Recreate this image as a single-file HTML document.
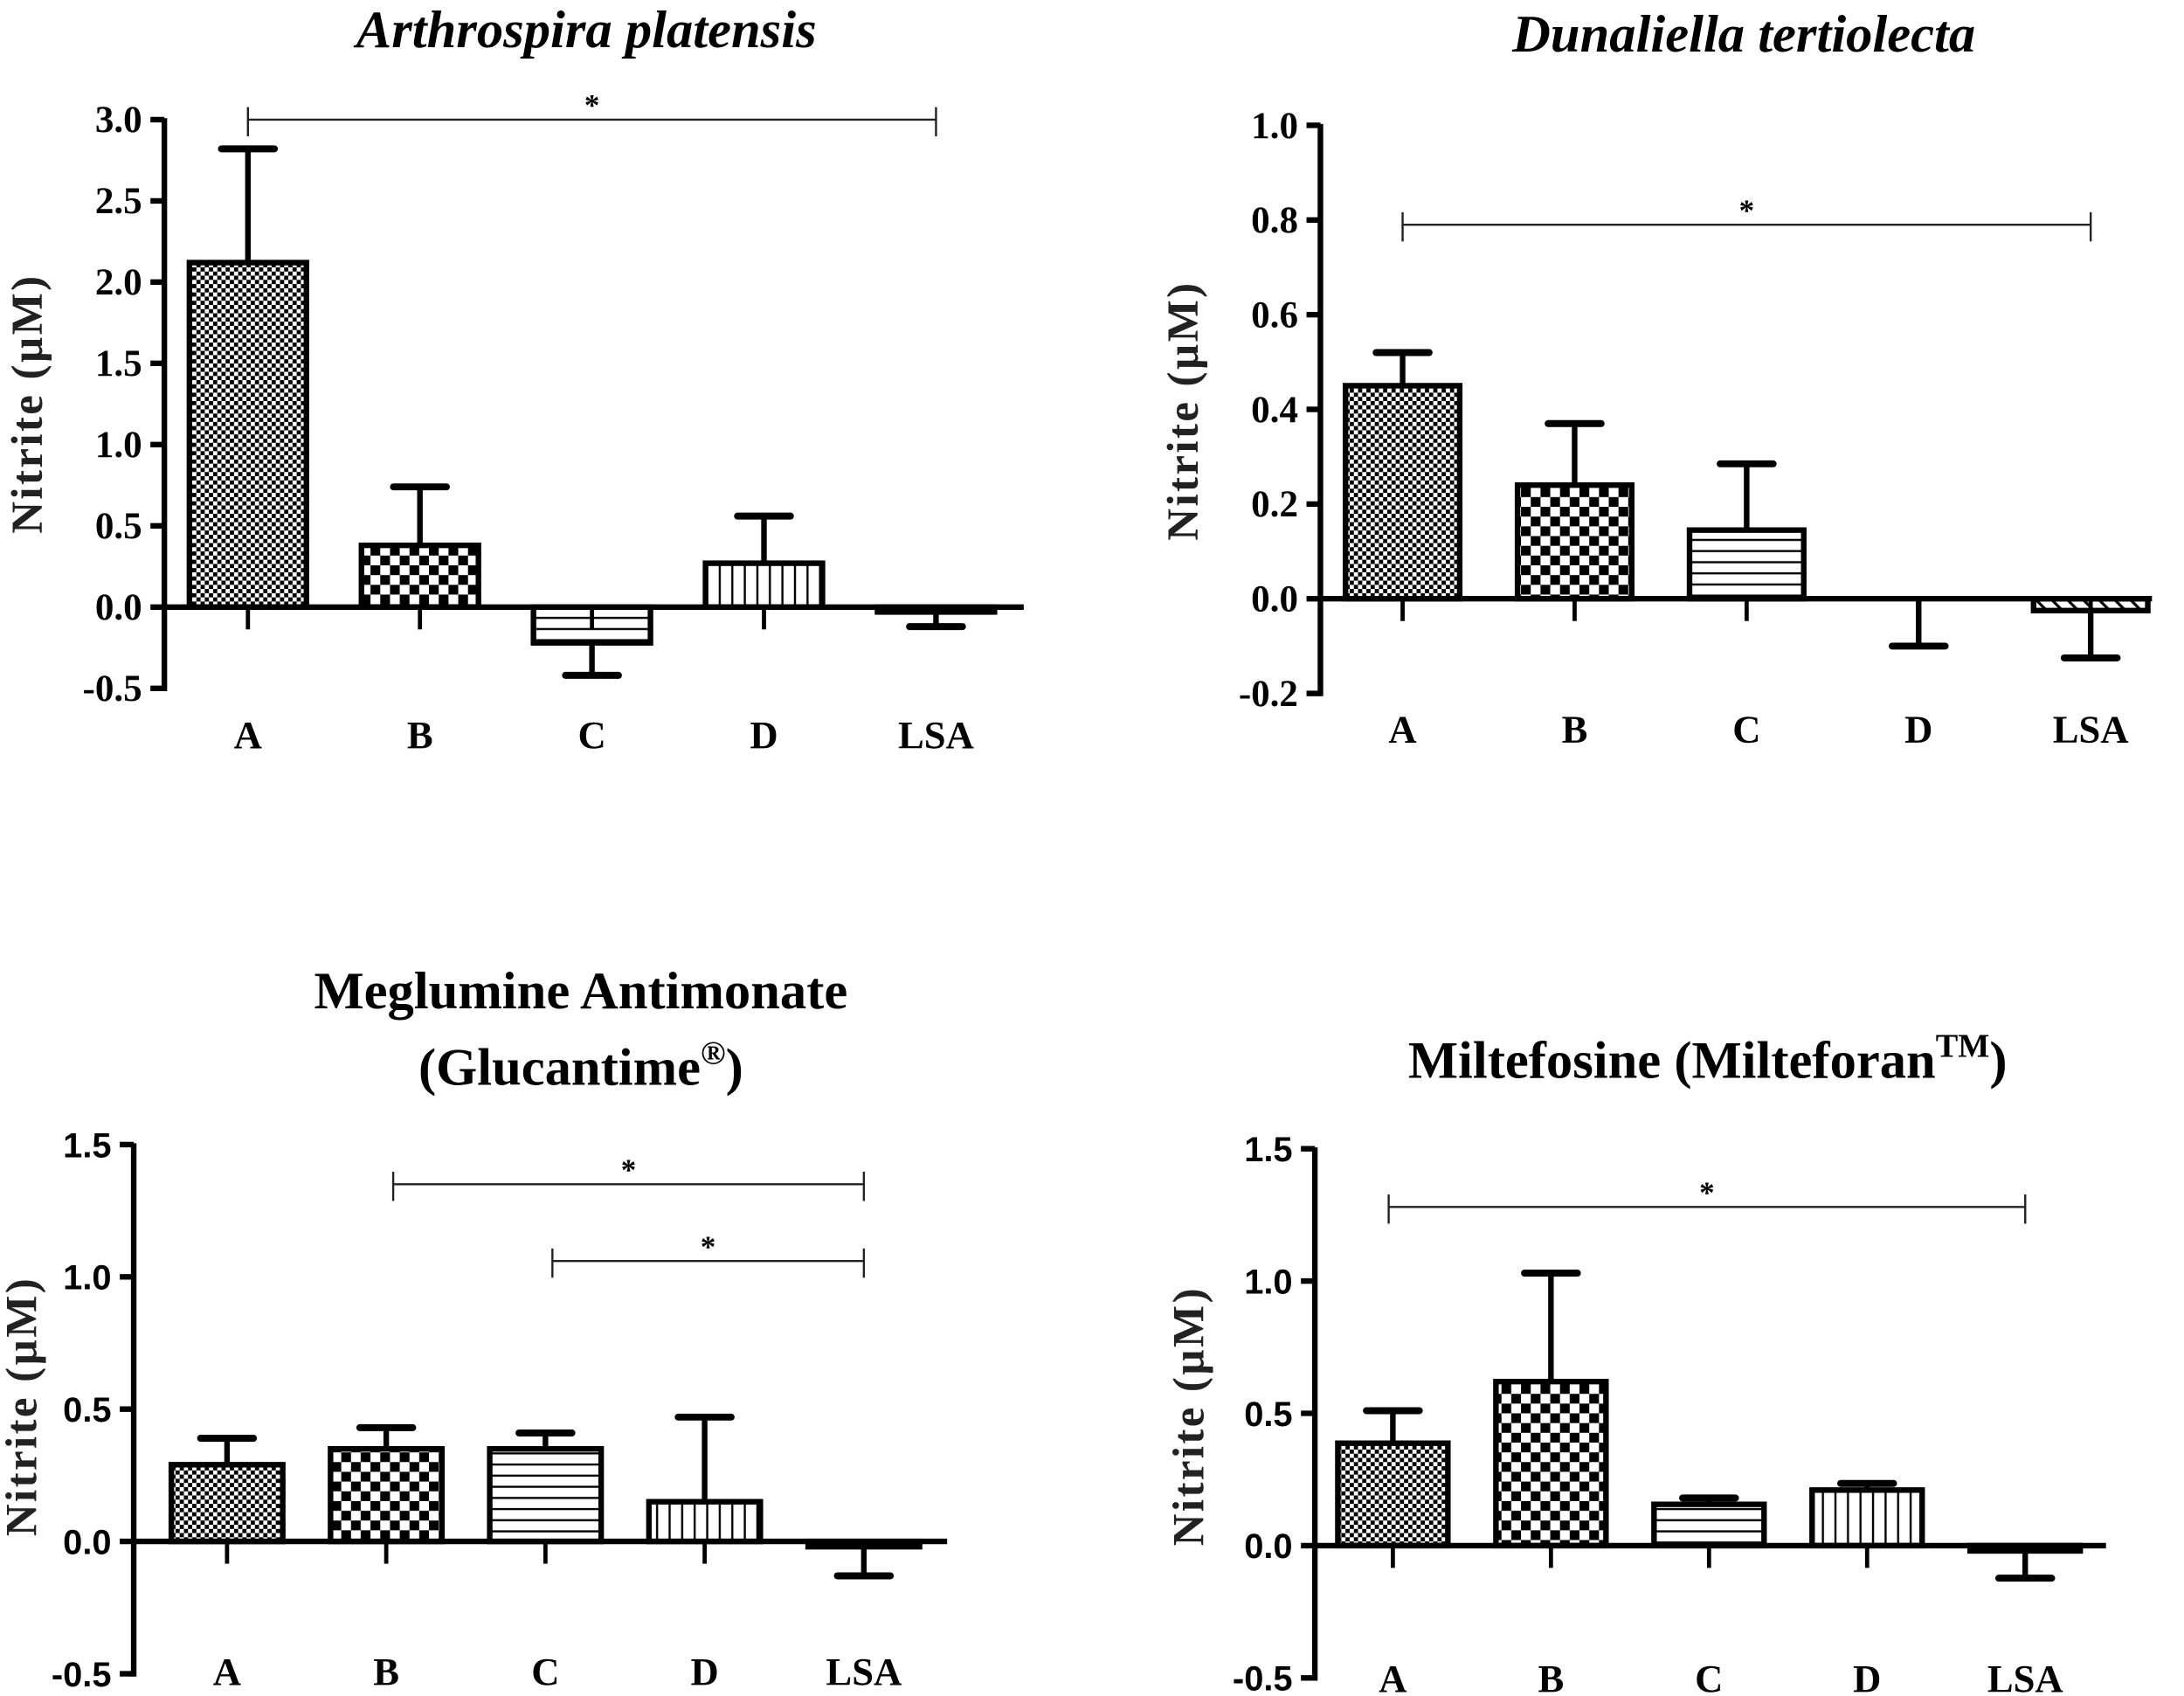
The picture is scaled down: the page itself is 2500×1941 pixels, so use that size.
<!DOCTYPE html>
<html><head><meta charset="utf-8"><style>
html,body{margin:0;padding:0;background:#fff;}
svg{display:block;}
.serif{font-family:"Liberation Serif",serif;font-weight:bold;}
.sans{font-family:"Liberation Sans",sans-serif;font-weight:bold;}
</style></head><body>
<svg id="fig" width="2500" height="1941" viewBox="0 0 1568 1218" preserveAspectRatio="none" xmlns="http://www.w3.org/2000/svg">
<defs>
<pattern id="pA" patternUnits="userSpaceOnUse" width="6" height="6"><rect width="6" height="6" fill="#fff"/><rect width="3" height="3" fill="#000"/><rect x="3" y="3" width="3" height="3" fill="#000"/></pattern>
<pattern id="pB" patternUnits="userSpaceOnUse" width="14" height="14"><rect width="14" height="14" fill="#fff"/><rect width="7" height="7" fill="#000"/><rect x="7" y="7" width="7" height="7" fill="#000"/></pattern>
<pattern id="pC" patternUnits="userSpaceOnUse" width="10" height="8"><rect width="10" height="8" fill="#fff"/><rect y="3" width="10" height="1.5" fill="#000"/></pattern>
<pattern id="pD" patternUnits="userSpaceOnUse" width="9" height="10"><rect width="9" height="10" fill="#fff"/><rect x="3" width="1.5" height="10" fill="#000"/></pattern>
<pattern id="pE" patternUnits="userSpaceOnUse" width="8" height="8" patternTransform="rotate(-45)"><rect width="8" height="8" fill="#fff"/><rect width="2" height="8" fill="#000"/></pattern>
</defs>
<text class="serif" x="421" y="34" font-size="38" font-style="italic" text-anchor="middle">Arthrospira platensis</text>
<text class="serif" x="1252" y="37" font-size="38" font-style="italic" text-anchor="middle">Dunaliella tertiolecta</text>
<text class="serif" x="417" y="724" font-size="38" text-anchor="middle">Meglumine Antimonate</text>
<text class="serif" x="417" y="779" font-size="38" text-anchor="middle">(Glucantime<tspan font-size="24" dy="-15">®</tspan><tspan dy="15">)</tspan></text>
<text class="serif" x="1226" y="774" font-size="38" text-anchor="middle">Miltefosine (Milteforan<tspan font-size="24" dy="-15">TM</tspan><tspan dy="15">)</tspan></text>
</svg>
<script>
const categories = ["A","B","C","D","LSA"];
const arthroMeans = [2.12, 0.38, -0.22, 0.27, -0.03];
const arthroErr = [2.82, 0.74, -0.42, 0.56, -0.12];
const arthroTicks = ["-0.5","0.0","0.5","1.0","1.5","2.0","2.5","3.0"];
const dunaMeans = [0.45, 0.24, 0.145, 0, -0.025];
const dunaErr = [0.52, 0.37, 0.285, -0.1, -0.125];
const dunaTicks = ["-0.2","0.0","0.2","0.4","0.6","0.8","1.0"];
const meglMeans = [0.29, 0.35, 0.35, 0.15, -0.02];
const meglErr = [0.39, 0.43, 0.41, 0.47, -0.13];
const meglTicks = ["-0.5","0.0","0.5","1.0","1.5"];
const miltMeans = [0.387, 0.62, 0.156, 0.21, -0.02];
const miltErr = [0.51, 1.03, 0.18, 0.235, -0.123];
const miltTicks = ["-0.5","0.0","0.5","1.0","1.5"];
const arthroSig = [[0, 4, 3.0]];
const dunaSig = [[0, 4, 0.79]];
const meglSig = [[1, 4, 1.35], [2, 4, 1.06]];
const miltSig = [[0, 4, 1.28]];

const NS = "http://www.w3.org/2000/svg";
const svg = document.getElementById("fig");
const pats = ["url(#pA)","url(#pB)","url(#pC)","url(#pD)","url(#pE)"];
function mk(tag, attrs, parent){const e=document.createElementNS(NS,tag);for(const k in attrs)e.setAttribute(k,attrs[k]);(parent||svg).appendChild(e);return e;}

function panel(id, cfg, means, errs, ticks, sigs){
  const g = mk("g",{});
  
  
  const y = v => cfg.y0 - v*cfg.ppu;
  const x = i => cfg.x0 + i*cfg.step;
  const tv = ticks.map(Number);
  const ymin = Math.min(...tv), ymax = Math.max(...tv);
  const ax = mk("line",{x1:cfg.ax,x2:cfg.ax,y1:y(ymax)-1,y2:y(ymin)+2,stroke:"#000","stroke-width":4},g);
  
  
  ticks.forEach(t=>{
    const v=Number(t);
    mk("line",{x1:cfg.ax-10,x2:cfg.ax,y1:y(v),y2:y(v),stroke:"#000","stroke-width":4},g);
    const tx = mk("text",{x:cfg.ax-16,y:y(v)+9,"font-size":cfg.tf,"text-anchor":"end",class:cfg.tclass},g);
    tx.textContent=t;
    
    
  });
  const yl = mk("text",{x:0,y:0,"font-size":32,"text-anchor":"middle",class:"serif","letter-spacing":"1.5",fill:"#222",transform:`translate(${cfg.ylx},${cfg.yly}) rotate(-90)`},g);
  yl.textContent="Nitrite (\u00b5M)";
  
  
  categories.forEach((c,i)=>{
    const cx=x(i), m=means[i], e=errs[i];
    const top=Math.min(y(m),y(0)), h=Math.abs(y(m)-y(0));
    const eb = mk("line",{x1:cx,x2:cx,y1:y(m),y2:y(e),stroke:"#000","stroke-width":4},g);
    
    
    mk("line",{x1:cx-19,x2:cx+19,y1:y(e),y2:y(e),stroke:"#000","stroke-width":5,"stroke-linecap":"round"},g);
    if(h>0.5){
      const b = mk("rect",{x:cx-cfg.bw/2,y:top,width:cfg.bw,height:h,fill:pats[i],stroke:"#000","stroke-width":4},g);
      
      
    }
    mk("line",{x1:cx,x2:cx,y1:y(0),y2:y(0)+16,stroke:"#000","stroke-width":3},g);
    const lt = mk("text",{x:cx,y:cfg.xly,"font-size":28,"text-anchor":"middle",class:"serif"},g);
    lt.textContent=c;
    
    
  });
  const zl = mk("line",{x1:cfg.ax,x2:cfg.xend,y1:y(0),y2:y(0),stroke:"#000","stroke-width":4},g);
  
  
  sigs.forEach(s=>{
    const x1=x(s[0])+(cfg.sigOff||0), x2=x(s[1]), sy=y(s[2]);
    const sl = mk("line",{x1:x1,x2:x2,y1:sy,y2:sy,stroke:"#222","stroke-width":1.5},g);
    
    
    mk("line",{x1:x1,x2:x1,y1:sy-9,y2:sy+12,stroke:"#222","stroke-width":1.5},g);
    mk("line",{x1:x2,x2:x2,y1:sy-9,y2:sy+12,stroke:"#222","stroke-width":1.5},g);
    const st = mk("text",{x:(x1+x2)/2,y:sy-3,"font-size":22,"text-anchor":"middle",class:"serif"},g);
    st.textContent="*";
    
    
  });
}

panel("arthrospira",{y0:436,ppu:116.7,ax:118,xend:735,x0:178,step:123.5,bw:84,tf:27,tclass:"serif",ylx:30,yly:290,xly:537},arthroMeans,arthroErr,arthroTicks,arthroSig);
panel("dunaliella",{y0:430,ppu:340,ax:948,xend:1545,x0:1007,step:123.5,bw:82,tf:27,tclass:"serif",ylx:860,yly:295,xly:533},dunaMeans,dunaErr,dunaTicks,dunaSig);
panel("meglumine",{y0:1107,ppu:190,ax:96,xend:680,x0:163,step:114.3,bw:80,tf:25,tclass:"sans",ylx:26,yly:1010,xly:1210,sigOff:5},meglMeans,meglErr,meglTicks,meglSig);
panel("miltefosine",{y0:1110,ppu:190,ax:944,xend:1512,x0:1000,step:113.5,bw:79,tf:25,tclass:"sans",ylx:864,yly:1017,xly:1215,sigOff:-3},miltMeans,miltErr,miltTicks,miltSig);
</script>
</body></html>
